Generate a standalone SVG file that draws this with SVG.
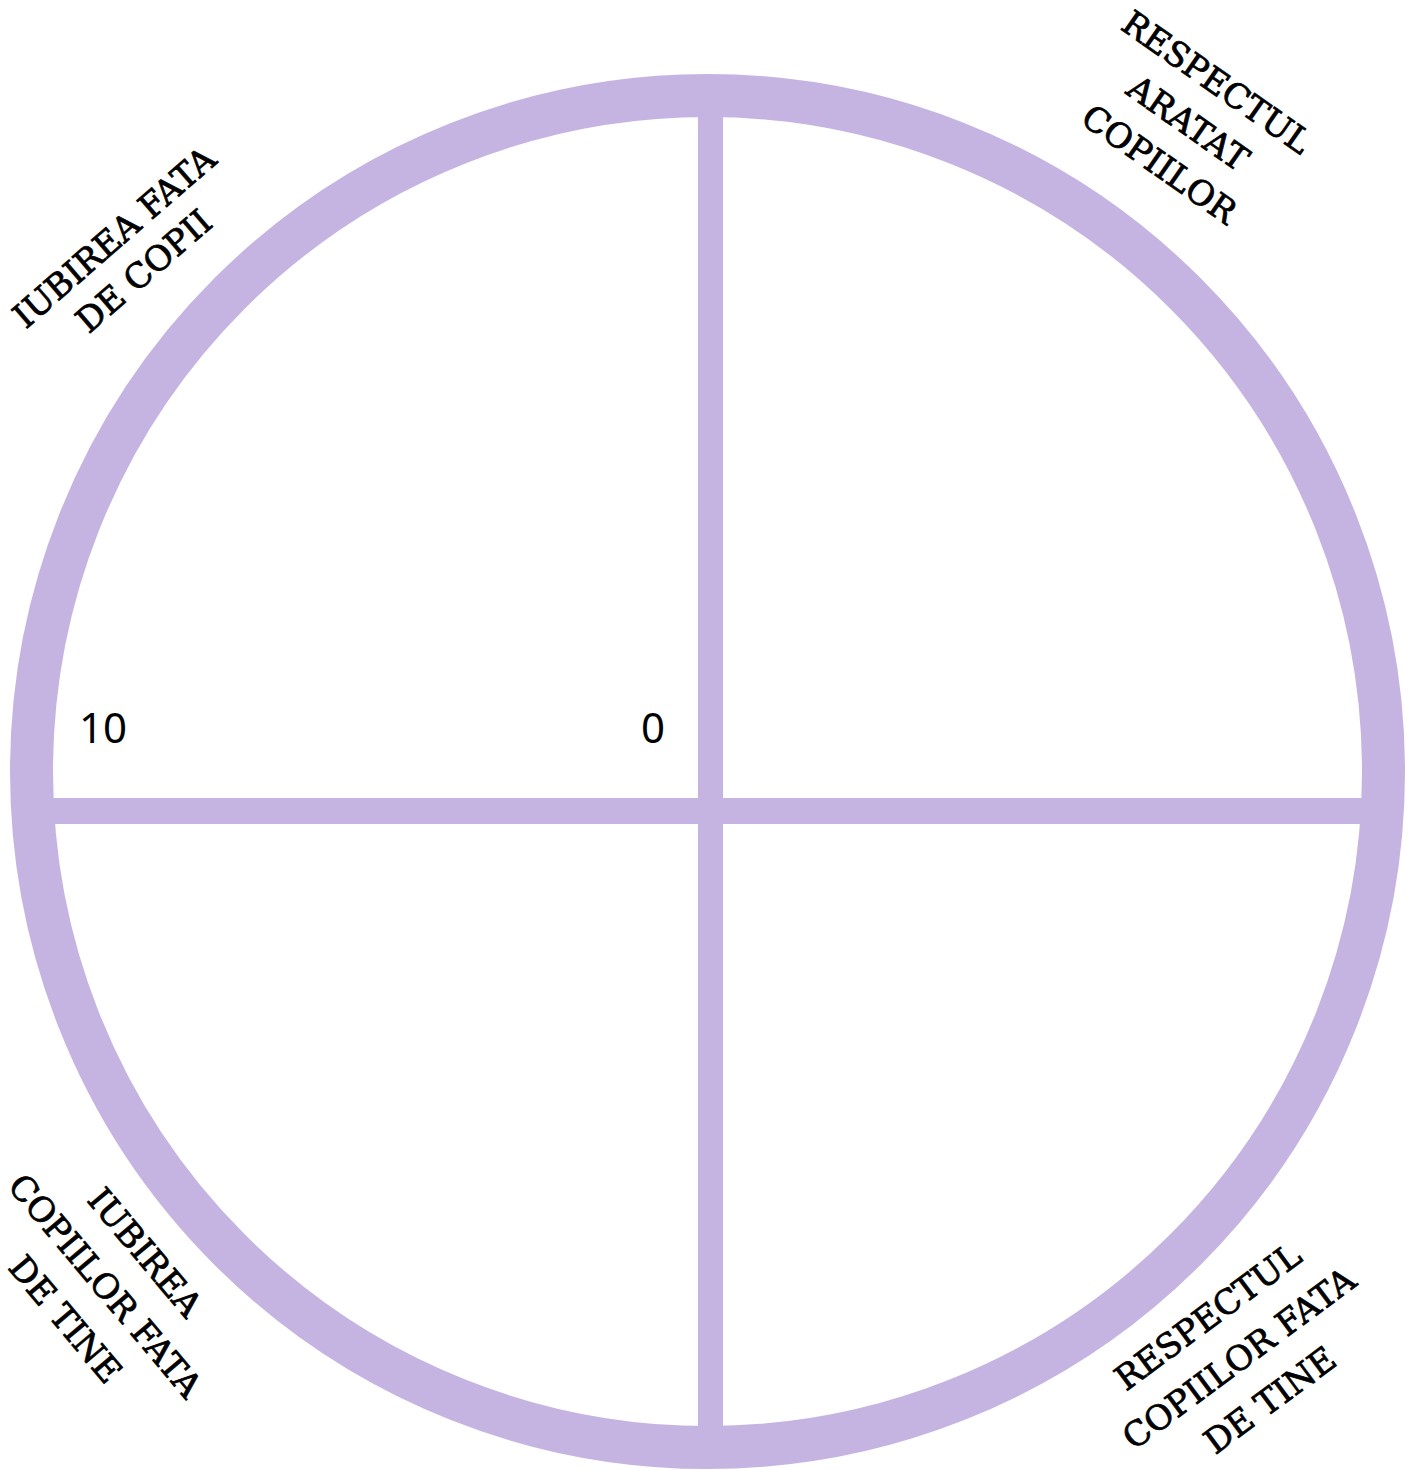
<svg xmlns="http://www.w3.org/2000/svg" width="1416" height="1470" viewBox="0 0 1416 1470">
<style>
.ring{fill:none;stroke:#c5b4e2;stroke-width:43}
.bar{fill:#c5b4e2}
.lbl{font-family:"DejaVu Serif","Liberation Serif",serif;font-size:34px;fill:#000;stroke:#000;stroke-width:0.8px;text-anchor:middle}
.num{font-family:"Noto Sans","Open Sans",sans-serif;font-size:42px;fill:#000}
</style>
<rect width="1416" height="1470" fill="#fff"/>
<g id="wheel">
<circle class="ring" cx="707.5" cy="771.5" r="676"/>
</g>
<g id="connectors">
<rect class="bar" x="698" y="100" width="25" height="1345"/>
<rect class="bar" x="35" y="798" width="1345" height="26"/>
</g>
<g id="label-tl" transform="translate(122,246) rotate(-41)">
<text class="lbl" x="0" y="0">IUBIREA FATA</text>
<text class="lbl" x="0" y="45">DE COPII</text>
</g>
<g id="label-tr" transform="translate(1210,92) rotate(35)">
<text class="lbl" x="0" y="0">RESPECTUL</text>
<text class="lbl" x="0" y="50">ARATAT</text>
<text class="lbl" x="0" y="100">COPIILOR</text>
</g>
<g id="label-bl" transform="translate(136,1260) rotate(50)">
<text class="lbl" x="0" y="0">IUBIREA</text>
<text class="lbl" x="0" y="52">COPIILOR FATA</text>
<text class="lbl" x="0" y="104">DE TINE</text>
</g>
<g id="label-br" transform="translate(1215,1326) rotate(-36.5)">
<text class="lbl" x="0" y="0">RESPECTUL</text>
<text class="lbl" x="0" y="52">COPIILOR FATA</text>
<text class="lbl" x="0" y="104">DE TINE</text>
</g>
<g id="scale">
<text class="num" x="79" y="743">10</text>
<text class="num" x="641" y="743">0</text>
</g>
</svg>
